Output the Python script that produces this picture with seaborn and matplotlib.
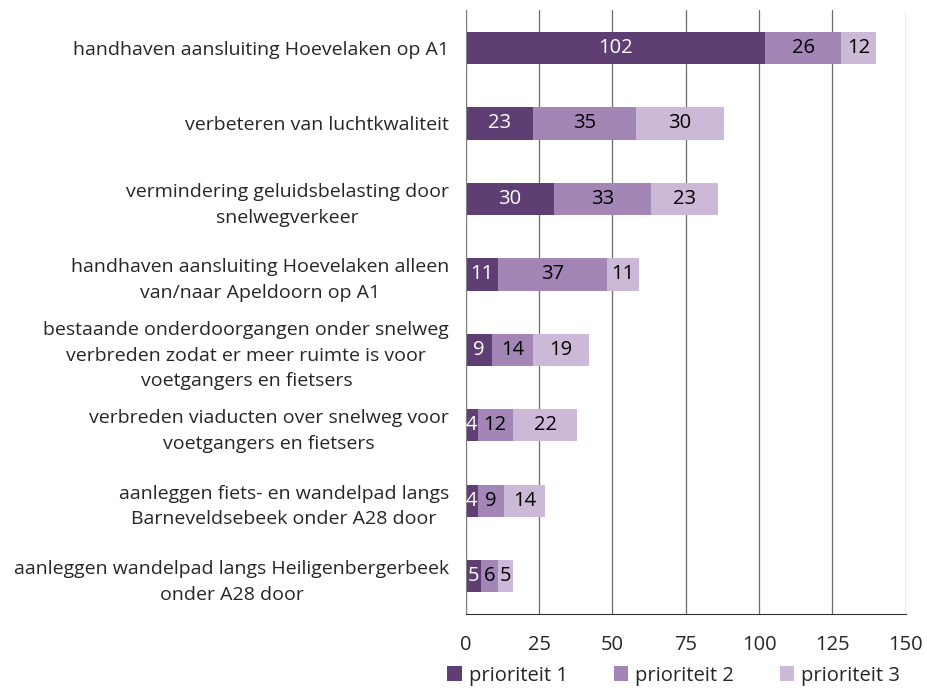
import pandas as pd
import seaborn as sns
import matplotlib.pyplot as plt

categories = [
    'handhaven aansluiting Hoevelaken op A1',
    'verbeteren van luchtkwaliteit',
    'vermindering geluidsbelasting door\nsnelwegverkeer',
    'handhaven aansluiting Hoevelaken alleen\nvan/naar Apeldoorn op A1',
    'bestaande onderdoorgangen onder snelweg\nverbreden zodat er meer ruimte is voor\nvoetgangers en fietsers',
    'verbreden viaducten over snelweg voor\nvoetgangers en fietsers',
    'aanleggen fiets- en wandelpad langs\nBarneveldsebeek onder A28 door',
    'aanleggen wandelpad langs Heiligenbergerbeek\nonder A28 door',
]
prio1 = [102, 23, 30, 11, 9, 4, 4, 5]
prio2 = [26, 35, 33, 37, 14, 12, 9, 6]
prio3 = [12, 30, 23, 11, 19, 22, 14, 5]
series_names = ['prioriteit 1', 'prioriteit 2', 'prioriteit 3']
colors = ['#5f3f73', '#a385b6', '#cbb9d7']
label_colors = ['white', 'black', 'black']
xticks = [0, 25, 50, 75, 100, 125, 150]

df = pd.DataFrame({'cat': categories, 'p1': prio1, 'p2': prio2, 'p3': prio3})
df['c1'] = df['p1']
df['c2'] = df['p1'] + df['p2']
df['c3'] = df['c2'] + df['p3']

sns.set_style('white')
plt.rcParams['font.family'] = ['Open Sans', 'DejaVu Sans']

fig = plt.figure(figsize=(9.28, 6.88), dpi=100)
ax = fig.add_axes([0.502, 0.1076, 0.474, 0.8777])

# gestapelde balken: cumulatieve totalen van achter naar voor tekenen
for col, color, name in zip(['c3', 'c2', 'c1'], colors[::-1], series_names[::-1]):
    sns.barplot(data=df, x=col, y='cat', color=color, width=0.43,
                orient='h', ax=ax, label=name, saturation=1, linewidth=0)

# waarden in de segmenten
for i in range(len(categories)):
    start = 0
    for vals, tc in zip([prio1, prio2, prio3], label_colors):
        v = vals[i]
        ax.text(start + v / 2, i, str(v), ha='center', va='center',
                color=tc, fontsize=14.5)
        start += v

ax.set_xlim(0, 150)
ax.set_ylim(len(categories) - 0.5, -0.5)
ax.set_xticks(xticks)
ax.set_xticklabels([str(t) for t in xticks], fontsize=14.5)
ax.grid(axis='x', color='#6a6a6a', linewidth=0.9)
ax.set_axisbelow(True)
ax.set_xlabel('')
ax.set_ylabel('')

# y-ticks op de grenzen tussen categorieen
ax.set_yticks([i + 0.5 for i in range(len(categories) - 1)] + [-0.5], minor=True)
ax.set_yticks(range(len(categories)))
ax.set_yticklabels(categories, fontsize=14, multialignment='center', linespacing=1.55)
ax.tick_params(axis='y', which='major', length=0, pad=12)
ax.tick_params(axis='y', which='minor', length=5, color='#333333', width=0.9)
ax.tick_params(axis='x', which='major', length=5, color='#333333', width=0.9, pad=10)

for s in ['top', 'right']:
    ax.spines[s].set_visible(False)
ax.spines['left'].set_color('#808080')
ax.spines['bottom'].set_color('#333333')

handles, labels = ax.get_legend_handles_labels()
order = [labels.index(n) for n in series_names]
ax.legend([handles[k] for k in order], series_names, loc='upper center',
          bbox_to_anchor=(0.473, -0.072), ncol=3, frameon=False, fontsize=14.5,
          handlelength=0.7, handleheight=0.7, handletextpad=0.35, columnspacing=2.3,
          borderaxespad=0)

fig.savefig('out.png', dpi=100)
